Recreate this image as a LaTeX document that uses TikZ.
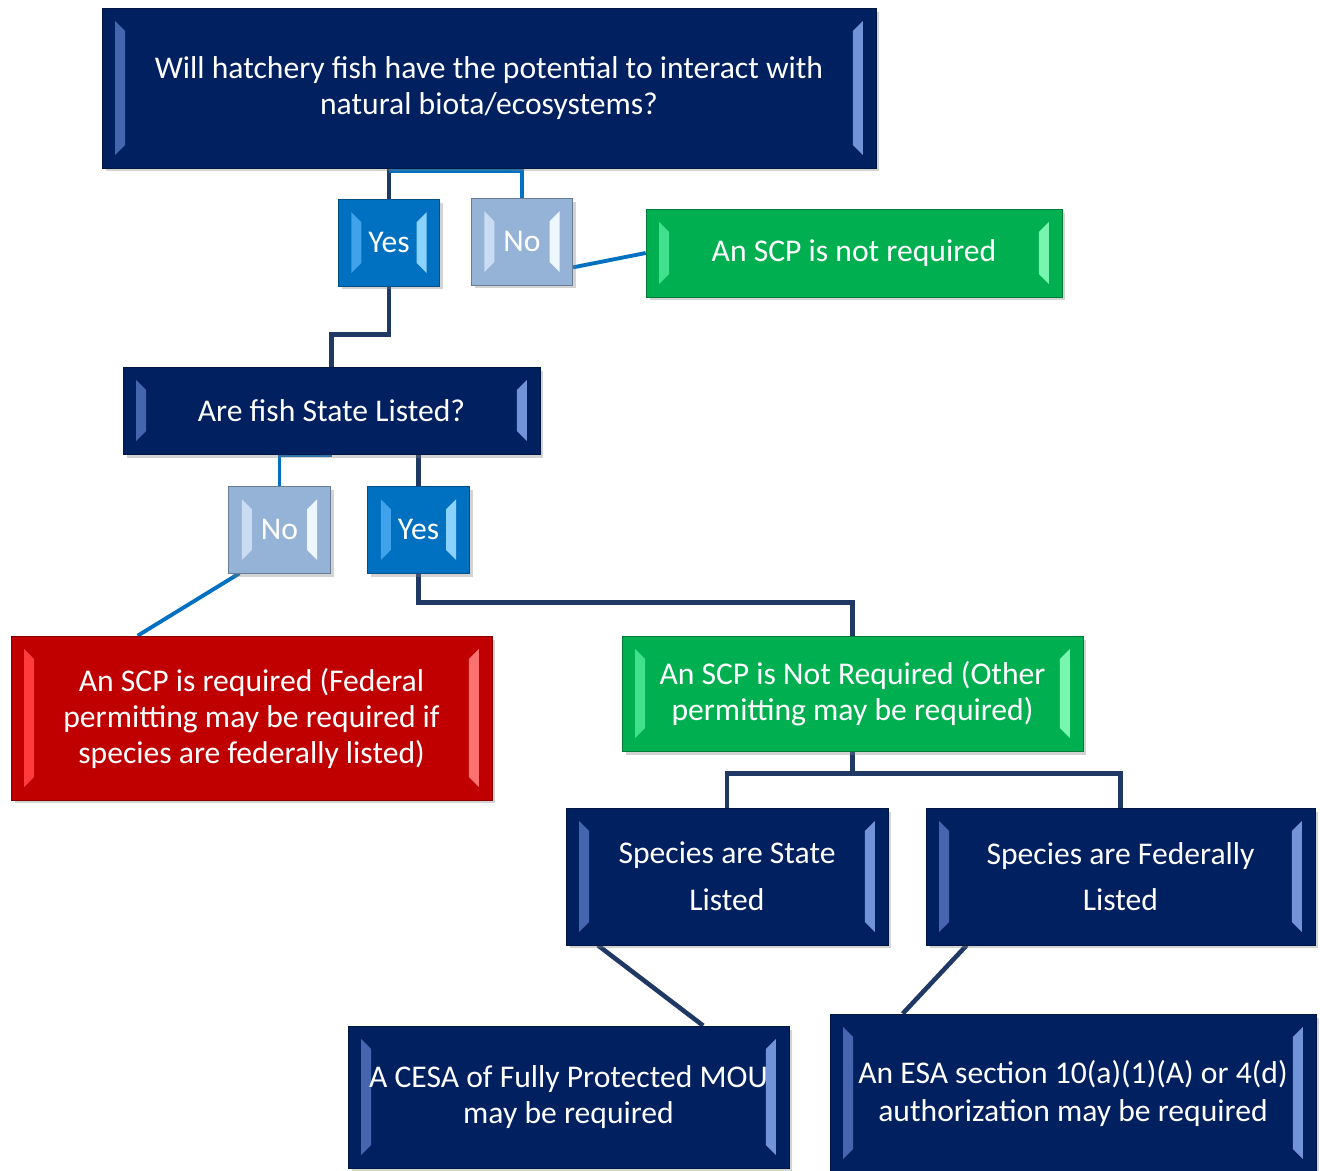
\documentclass[tikz,border=0pt]{standalone}
\usepackage{fontspec}
\setmainfont{Carlito}
\usetikzlibrary{shadows,calc,backgrounds}

\definecolor{boxnavy}{HTML}{002060}
\definecolor{navyleft}{HTML}{4565AE}
\definecolor{navyright}{HTML}{7393D8}
\definecolor{boxyes}{HTML}{0070C0}
\definecolor{yesleft}{HTML}{40A2EA}
\definecolor{yesright}{HTML}{8CD2FF}
\definecolor{boxno}{HTML}{95B3D7}
\definecolor{noleft}{HTML}{CADCF2}
\definecolor{noright}{HTML}{EEF6FF}
\definecolor{boxgreen}{HTML}{00B050}
\definecolor{greenleft}{HTML}{40E08C}
\definecolor{greenright}{HTML}{78F5AE}
\definecolor{boxred}{HTML}{C00000}
\definecolor{redleft}{HTML}{FF3B3B}
\definecolor{redright}{HTML}{FF7272}
\definecolor{linenavy}{HTML}{1F3864}
\definecolor{lineblue}{HTML}{0070C0}

\tikzset{
  bevelled/.style 2 args={path picture={
      \fill[#1] ([shift={(0.26cm,-0.26cm)}]path picture bounding box.north west)
        -- ([shift={(0.26cm,0.26cm)}]path picture bounding box.south west)
        -- ([shift={(0.46cm,0.46cm)}]path picture bounding box.south west)
        -- ([shift={(0.46cm,-0.46cm)}]path picture bounding box.north west) -- cycle;
      \fill[#2] ([shift={(-0.26cm,-0.26cm)}]path picture bounding box.north east)
        -- ([shift={(-0.26cm,0.26cm)}]path picture bounding box.south east)
        -- ([shift={(-0.46cm,0.46cm)}]path picture bounding box.south east)
        -- ([shift={(-0.46cm,-0.46cm)}]path picture bounding box.north east) -- cycle;
    }},
  card/.style={rectangle, text=white, align=center, inner sep=0pt,
    font=\fontsize{18}{20.5}\selectfont,
    drop shadow={shadow xshift=0.07cm, shadow yshift=-0.07cm, opacity=0.35}},
  navybox/.style={card, fill=boxnavy, draw=boxnavy!70!black, bevelled={navyleft}{navyright}},
  yesbox/.style={card, fill=boxyes, draw=boxyes!70!black, bevelled={yesleft}{yesright},
    minimum width=2.03cm, minimum height=1.74cm},
  nobox/.style={card, fill=boxno, draw=boxno!70!black, bevelled={noleft}{noright},
    minimum width=2.03cm, minimum height=1.74cm},
  greenbox/.style={card, fill=boxgreen, draw=boxgreen!70!black, bevelled={greenleft}{greenright}},
  redbox/.style={card, fill=boxred, draw=boxred!70!black, bevelled={redleft}{redright}},
  navyline/.style={draw=linenavy, line width=2.6pt},
  blueline/.style={draw=lineblue, line width=2.2pt}
}

\begin{document}
\begin{tikzpicture}[x=0.02cm, y=-0.02cm]
    \useasboundingbox (0,0) rectangle (1320,1171);

    \node[navybox, minimum width=15.48cm, minimum height=3.2cm] (hatchq) at (489,88) {Will hatchery fish have the potential to interact with\\natural biota/ecosystems?};
    \node[yesbox] (yesa) at (389,242.5) {Yes};
    \node[nobox] (noa) at (522,241.5) {No};
    \node[greenbox, minimum width=8.32cm, minimum height=1.76cm] (noscp) at (854,253) {An SCP is not required};

    \node[navybox, minimum width=8.34cm, minimum height=1.74cm] (stateq) at (331.5,410.5) {Are fish State Listed?};
    \node[nobox] (nob) at (279.5,529.5) {No};
    \node[yesbox] (yesb) at (418.5,529.5) {Yes};

    \node[redbox, minimum width=9.62cm, minimum height=3.28cm] (scpreq) at (251.5,718) {An SCP is required (Federal\\permitting may be required if\\species are federally listed)};
    \node[greenbox, minimum width=9.22cm, minimum height=2.3cm] (scpnotreq) at (852.5,693.5) {An SCP is Not Required (Other\\permitting may be required)};

    \node[navybox, minimum width=6.44cm, minimum height=2.74cm, font=\fontsize{18}{26.6}\selectfont] (statelisted) at (727,876.5) {Species are State\\Listed};
    \node[navybox, minimum width=7.78cm, minimum height=2.74cm, font=\fontsize{18}{26.6}\selectfont] (fedlisted) at (1120.5,876.5) {Species are Federally\\Listed};

    \node[navybox, minimum width=8.82cm, minimum height=2.84cm] (cesa) at (568.5,1097) {A CESA of Fully Protected MOU\\may be required};
    \node[navybox, minimum width=9.72cm, minimum height=3.16cm, font=\fontsize{18}{21.6}\selectfont] (esa) at (1073,1093) {An ESA section 10(a)(1)(A) or 4(d)\\authorization may be required};

    % connectors go under the boxes
    \begin{scope}[on background layer]
        \draw[navyline] (hatchq.south -| yesa.north) -- (yesa.north);
        \draw[blueline] ($(hatchq.south -| yesa.north)+(0,3)$) -| (noa.north);
        \draw[blueline] ($(noa.south east)+(0,-18)$) -- (noscp.west);
        \draw[navyline] (yesa.south) -- ++(0,48) -| (stateq.north);

        \draw[blueline] ($(stateq.south)+(0,1)$) -| (nob.north);
        \draw[navyline] (stateq.south -| yesb.north) -- (yesb.north);
        \draw[blueline] ($(nob.south west)+(11,0)$) -- ($(scpreq.north west)+(127,0)$);
        \draw[navyline] (yesb.south) -- ++(0,29) -| (scpnotreq.north);

        \draw[navyline] (scpnotreq.south) -- ++(0,22) coordinate (split);
        \draw[navyline] (split) -| (statelisted.north);
        \draw[navyline] (split) -| (fedlisted.north);

        \draw[navyline] ($(statelisted.south west)!0.1!(statelisted.south east)$) -- ($(cesa.north west)!0.805!(cesa.north east)$);
        \draw[navyline] ($(fedlisted.south west)!0.105!(fedlisted.south east)$) -- ($(esa.north west)!0.15!(esa.north east)$);
    \end{scope}
\end{tikzpicture}
\end{document}
